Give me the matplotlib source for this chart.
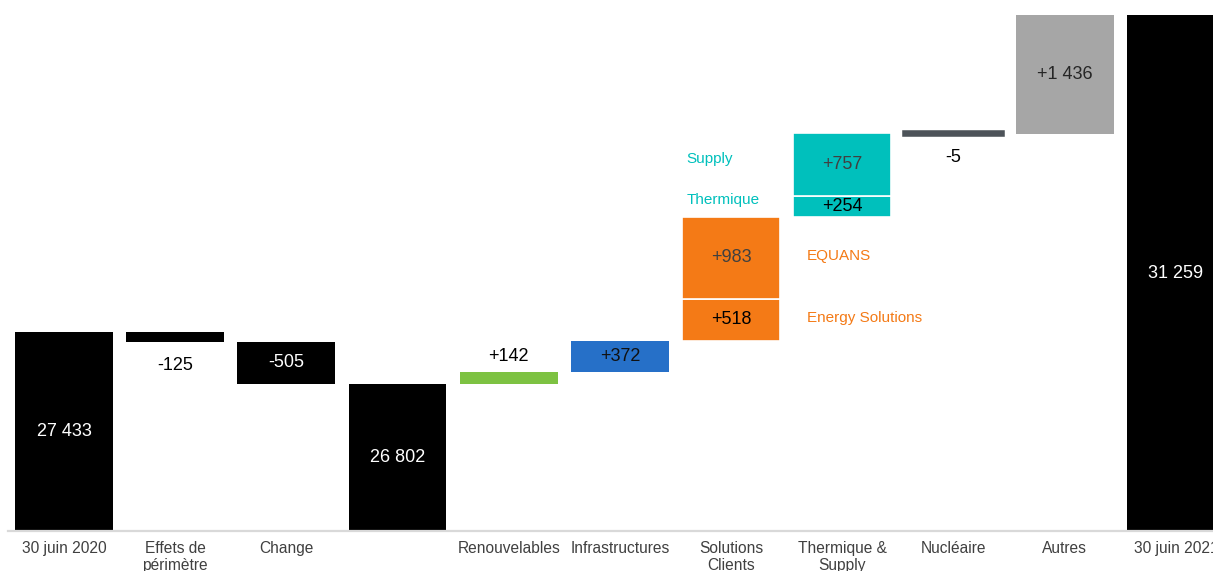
import matplotlib
matplotlib.use('Agg')
from matplotlib import pyplot as plt

plt.rcParams['font.family'] = ['Liberation Sans', 'DejaVu Sans']

# Data
labels = ['30 juin 2020', 'Effets de\npérimètre', 'Change', '', 'Renouvelables',
          'Infrastructures', 'Solutions\nClients', 'Thermique &\nSupply',
          'Nucléaire', 'Autres', '30 juin 2021']
segments = [[27433], [-125], [-505], [26802], [142], [372], [518, 983],
            [254, 757], [-5], [1436], [31259]]
is_total = [True, False, False, True, False, False, False, False, False, False, True]
sub_labels_left = {7: ['Thermique', 'Supply']}
sub_labels_right = {6: ['Energy Solutions', 'EQUANS']}

# Styles
seg_colors = [['#000000'], ['#000000'], ['#000000'], ['#000000'], ['#7DC242'],
              ['#2670C8'], ['#F47A16', '#F47A16'], ['#00C0BC', '#00C0BC'],
              ['#4D5359'], ['#A6A6A6'], ['#000000']]
txt_colors = [['white'], ['black'], ['white'], ['white'], ['black'], ['#111111'],
              ['black', '#404040'], ['black', '#404040'], ['black'], ['#262626'],
              ['white']]
label_pos = ['in', 'below', 'in', 'in', 'above', 'in', 'in', 'in', 'below', 'in', 'in']
sub_colors = {6: '#F47A16', 7: '#00C0BC'}

ymin, ymax = 25025, 31440


def fmt(v, total):
    s = f"{abs(v):,}".replace(',', ' ')
    if total:
        return s
    return ('+' if v > 0 else '-') + s


fig = plt.figure(figsize=(12.13, 5.71), dpi=100)
ax = fig.add_axes([0.0069, 0.070, 1.0084, 0.930])

level = 0
for i, segs in enumerate(segments):
    if is_total[i]:
        level = segs[0]
        ax.bar(i, level - ymin, bottom=ymin, width=0.88, color=seg_colors[i][0])
        ax.text(i, (ymin + level) / 2, fmt(level, True), ha='center', va='center',
                color=txt_colors[i][0], fontsize=13)
        continue
    for j, v in enumerate(segs):
        start = level
        level += v
        lw = 4 if abs(v) < 50 else 1.2
        ec = seg_colors[i][j] if abs(v) < 50 else 'white'
        if len(segs) == 1 and abs(v) >= 50:
            lw = 0
        ax.bar(i, v, bottom=start, width=0.88 if lw < 4 else 0.88,
               color=seg_colors[i][j], edgecolor=ec, linewidth=lw)
        lo, hi = min(start, level), max(start, level)
        if label_pos[i] == 'in':
            ax.text(i, (lo + hi) / 2, fmt(v, False), ha='center', va='center',
                    color=txt_colors[i][j], fontsize=13)
        elif label_pos[i] == 'below':
            ax.text(i, lo - 280, fmt(v, False), ha='center', va='center',
                    color=txt_colors[i][j], fontsize=13)
        else:
            ax.text(i, hi + 190, fmt(v, False), ha='center', va='center',
                    color=txt_colors[i][j], fontsize=13)
        if i in sub_labels_right:
            ax.text(i + 0.68, (lo + hi) / 2 + 25, sub_labels_right[i][j], ha='left',
                    va='center', color=sub_colors[i], fontsize=11)
        if i in sub_labels_left:
            ax.text(i - 1.4, (lo + hi) / 2 + 75, sub_labels_left[i][j], ha='left',
                    va='center', color=sub_colors[i], fontsize=11)

ax.set_xlim(-0.5, len(labels) - 0.5)
ax.set_ylim(ymin, ymax)
ax.set_xticks(range(len(labels)))
ax.set_xticklabels(labels, fontsize=11.2, color='#404040', linespacing=1.1)
ax.tick_params(axis='x', length=0, pad=7.5)
ax.set_yticks([])
for s in ['top', 'right', 'left']:
    ax.spines[s].set_visible(False)
ax.spines['bottom'].set_color('#D9D9D9')
ax.spines['bottom'].set_linewidth(1.6)

plt.savefig('out.png', dpi=100)
